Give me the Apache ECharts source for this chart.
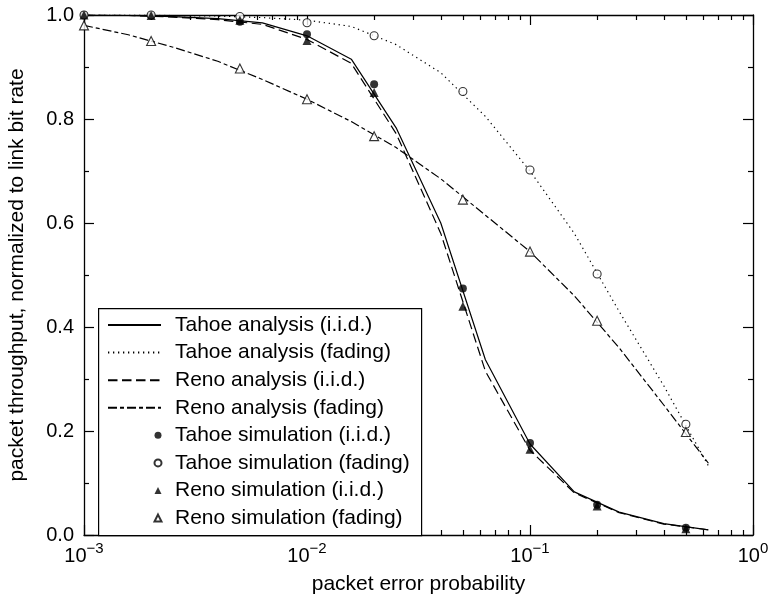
<!DOCTYPE html>
<html><head><meta charset="utf-8">
<script src="https://cdn.jsdelivr.net/npm/echarts@6/dist/echarts.min.js"></script>
<style>html,body{margin:0;padding:0;background:#fff}#c{width:771px;height:596px}</style>
</head><body><div id="c"></div>
<script>
// ---- data ----
const xAnalysis = [0.001, 0.00158, 0.00251, 0.00398, 0.00631, 0.01, 0.0158, 0.0251, 0.0398, 0.0631, 0.1, 0.158, 0.251, 0.398, 0.631];
const tahoeIidAnalysis    = [1.000, 0.999, 0.997, 0.993, 0.985, 0.960, 0.915, 0.783, 0.600, 0.337, 0.175, 0.083, 0.044, 0.022, 0.010];
const tahoeFadingAnalysis = [1.000, 1.000, 0.999, 0.998, 0.995, 0.990, 0.978, 0.943, 0.889, 0.805, 0.700, 0.580, 0.430, 0.287, 0.133];
const renoIidAnalysis     = [1.000, 0.999, 0.996, 0.991, 0.982, 0.953, 0.907, 0.772, 0.580, 0.315, 0.163, 0.081, 0.043, 0.021, 0.010];
const renoFadingAnalysis  = [0.980, 0.962, 0.938, 0.911, 0.876, 0.838, 0.795, 0.745, 0.685, 0.615, 0.545, 0.460, 0.360, 0.250, 0.138];

const xSim = [0.001, 0.002, 0.005, 0.01, 0.02, 0.05, 0.1, 0.2, 0.5];
const tahoeIidSim    = [1.000, 0.999, 0.987, 0.963, 0.867, 0.474, 0.177, 0.058, 0.014];
const tahoeFadingSim = [1.000, 1.000, 0.997, 0.985, 0.960, 0.853, 0.702, 0.502, 0.213];
const renoIidSim     = [1.000, 0.999, 0.990, 0.951, 0.851, 0.440, 0.165, 0.056, 0.012];
const renoFadingSim  = [0.980, 0.950, 0.897, 0.838, 0.767, 0.645, 0.545, 0.412, 0.198];

const xMinorTicks = [0.002,0.003,0.004,0.005,0.006,0.007,0.008,0.009,
                     0.02,0.03,0.04,0.05,0.06,0.07,0.08,0.09,
                     0.2,0.3,0.4,0.5,0.6,0.7,0.8,0.9];

const names = {
  tA: 'Tahoe analysis (i.i.d.)', tF: 'Tahoe analysis (fading)',
  rA: 'Reno analysis (i.i.d.)', rF: 'Reno analysis (fading)',
  tSA: 'Tahoe simulation (i.i.d.)', tSF: 'Tahoe simulation (fading)',
  rSA: 'Reno simulation (i.i.d.)', rSF: 'Reno simulation (fading)'
};

// ---- chart ----
const FONT = '"Liberation Sans", Arial, Helvetica, sans-serif';
const pair = (xs, ys) => xs.map((x, i) => [x, ys[i]]);
const BLACK = '#000';

function lineSeries(name, ys, type) {
  return {
    name, type: 'line', data: pair(xAnalysis, ys), symbol: 'none', showSymbol: false,
    lineStyle: { color: BLACK, width: 1.2, type: type },
    itemStyle: { color: 'rgba(0,0,0,0)' }, z: 2, animation: false, silent: true
  };
}
function scatterSeries(name, ys, symbol, filled, size) {
  return {
    name, type: 'scatter', data: pair(xSim, ys), symbol, symbolSize: size,
    itemStyle: filled ? { color: BLACK } : { color: '#fff', borderColor: BLACK, borderWidth: 1.1 },
    z: 4, animation: false, silent: true
  };
}

function logAxis(pos, major) {
  return {
    type: 'log', logBase: 10, min: 0.001, max: 1, position: pos,
    axisLine: { show: major, onZero: false, lineStyle: { color: BLACK, width: 1.3 } },
    axisTick: major ? { show: true, inside: true, length: 10, lineStyle: { color: BLACK, width: 1.2 } }
                    : { show: true, inside: true, length: 5, customValues: xMinorTicks, lineStyle: { color: BLACK, width: 1.2 } },
    axisLabel: { show: false },
    splitLine: { show: false }, minorTick: { show: false }
  };
}

const xBottom = logAxis('bottom', true);
xBottom.axisLabel = {
  show: true, margin: 6,
  formatter: v => {
    const e = Math.round(Math.log10(v));
    return '{b|10}{s|' + (e < 0 ? '\u2212' + (-e) : String(e)) + '}';
  },
  rich: {
    b: { fontSize: 20, fontFamily: FONT, color: BLACK, lineHeight: 30 },
    s: { fontSize: 15, fontFamily: FONT, color: BLACK, verticalAlign: 'top' }
  }
};
xBottom.name = 'packet error probability';
xBottom.nameLocation = 'middle';
xBottom.nameGap = 39;
xBottom.nameTextStyle = { fontSize: 21, fontFamily: FONT, color: BLACK };

function valAxis(pos, labels) {
  const a = {
    type: 'value', min: 0, max: 1, interval: 0.2, position: pos,
    axisLine: { show: true, onZero: false, lineStyle: { color: BLACK, width: 1.3 } },
    axisTick: { show: true, inside: true, length: 10, lineStyle: { color: BLACK, width: 1.2 } },
    minorTick: { show: true, splitNumber: 2, length: 5, lineStyle: { color: BLACK, width: 1.2 } },
    splitLine: { show: false }, minorSplitLine: { show: false },
    axisLabel: { show: labels, margin: 10, fontSize: 20, fontFamily: FONT, color: BLACK,
                 formatter: v => v.toFixed(1) }
  };
  if (labels) {
    a.name = 'packet throughput, normalized to link bit rate';
    a.nameLocation = 'middle'; a.nameGap = 56; a.nameRotate = 90;
    a.nameTextStyle = { fontSize: 21, fontFamily: FONT, color: BLACK };
  }
  return a;
}

const legendText = { fontSize: 21, fontFamily: FONT, color: BLACK, lineHeight: 21 };

const option = {
  backgroundColor: '#fff',
  animation: false,
  grid: { left: 84, right: 18, top: 15, bottom: 61, containLabel: false, outerBoundsMode: 'none' },
  xAxis: [xBottom, logAxis('bottom', false), logAxis('top', true), logAxis('top', false)],
  yAxis: [valAxis('left', true), valAxis('right', false)],
  legend: [
    { orient: 'vertical', left: 107, top: 314.5, padding: 0, itemWidth: 53, itemHeight: 10, itemGap: 6.6,
      selectedMode: false, textStyle: Object.assign({ padding: [0, 0, 0, 9] }, legendText),
      data: [names.tA, names.tF, names.rA, names.rF], z: 10 },
    { orient: 'vertical', left: 153.5, top: 424.8, padding: 0, itemWidth: 7, itemHeight: 7, itemGap: 6.6,
      selectedMode: false, textStyle: Object.assign({ padding: [0, 0, 0, 8.5] }, legendText),
      data: [names.tSA, names.tSF, names.rSA, names.rSF], z: 10 }
  ],
  graphic: [{
    type: 'rect', left: 98, top: 308, z: 8,
    shape: { width: 323, height: 227 },
    style: { fill: '#fff', stroke: BLACK, lineWidth: 1.2 }
  }],
  series: [
    lineSeries(names.tA, tahoeIidAnalysis, 'solid'),
    lineSeries(names.tF, tahoeFadingAnalysis, [1.3, 3.7]),
    lineSeries(names.rA, renoIidAnalysis, [9.5, 4.5]),
    lineSeries(names.rF, renoFadingAnalysis, [9, 3, 4, 3]),
    scatterSeries(names.tSA, tahoeIidSim, 'circle', true, 8),
    scatterSeries(names.tSF, tahoeFadingSim, 'circle', false, 8),
    scatterSeries(names.rSA, renoIidSim, 'triangle', true, 9),
    scatterSeries(names.rSF, renoFadingSim, 'triangle', false, 9)
  ]
};

const chart = echarts.init(document.getElementById('c'), null, { renderer: 'canvas' });
chart.setOption(option);
</script></body></html>
